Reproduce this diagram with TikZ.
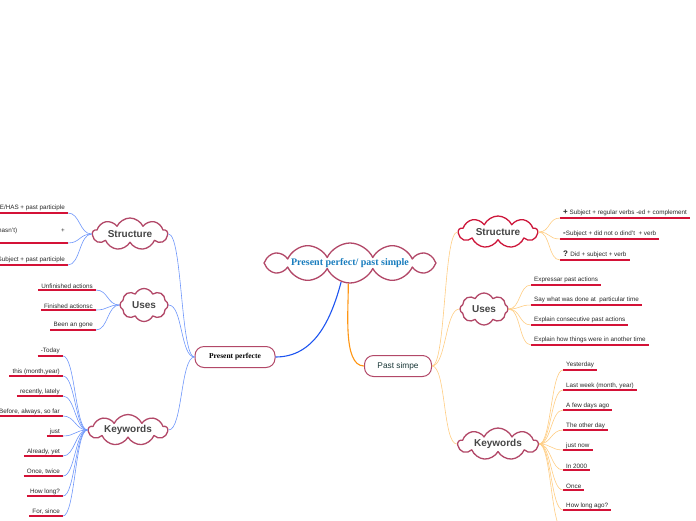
\documentclass[tikz,border=0pt]{standalone}
\usepackage{fontspec}
\setmainfont{Liberation Sans}
\newfontfamily\rootfont{Liberation Serif}
\usetikzlibrary{shapes.symbols}

\definecolor{cloudline}{RGB}{178,72,104}
\definecolor{cloudred}{RGB}{205,22,58}
\definecolor{cloudtext}{RGB}{70,70,70}
\definecolor{roottext}{RGB}{25,125,190}
\definecolor{pstext}{RGB}{25,55,55}
\definecolor{leaftext}{RGB}{40,40,40}
\definecolor{ulinered}{RGB}{212,18,55}
\definecolor{linkblue}{RGB}{110,150,250}
\definecolor{mainblue}{RGB}{30,85,240}
\definecolor{linkorange}{RGB}{255,205,130}
\definecolor{mainorange}{RGB}{255,150,20}

\tikzset{
  topic/.style={cloud, cloud puffs=9, cloud puff arc=130, cloud ignores aspect,
    draw=cloudline, line width=1.3pt, line join=round, fill=white, inner sep=0pt,
    font=\bfseries\fontsize{10}{12}\selectfont, text=cloudtext},
  subject/.style={rectangle, rounded corners=9pt, draw=cloudline, line width=1pt,
    fill=white, minimum height=21pt, inner sep=0pt},
  leaf/.style={inner xsep=3pt, inner ysep=1.5pt, text=leaftext,
    font=\fontsize{6.3}{7.5}\selectfont},
  uline/.style={draw=ulinered, line width=1.3pt},
  bluelink/.style={draw=linkblue, line width=0.6pt},
  orangelink/.style={draw=linkorange, line width=0.6pt},
  leftlink/.style={out=180, in=0, distance=12pt},
  rightlink/.style={out=0, in=180, distance=12pt},
}

\begin{document}
\begin{tikzpicture}[x=1pt,y=1pt]
    % Fix the page
    \useasboundingbox (0,0) rectangle (696,-520);
    \clip (0,0) rectangle (696,-520);
    % Draw root and main topics
    \node[topic, cloud puffs=12, minimum width=172pt, minimum height=38pt,
      font=\rootfont\bfseries\fontsize{10}{12}\selectfont, text=roottext]
      (root) at (350,-263) {Present perfect/ past simple};
    \node[subject, minimum width=80pt, font=\rootfont\bfseries\fontsize{7.5}{9}\selectfont]
      (pp) at (235,-357) {Present perfecte};
    \node[subject, minimum width=67pt, font=\fontsize{8.3}{10}\selectfont, text=pstext]
      (ps) at (398,-366) {Past simpe};
    \draw[mainblue, line width=1.1pt] (root.245) to[out=-105, in=0] (pp.east);
    \draw[mainorange, line width=1.1pt] (root.265) to[out=-88, in=180, distance=22pt] (ps.west);
    % Draw left topics
    \node[topic, minimum width=75pt, minimum height=32pt] (stL) at (130,-234) {Structure};
    \node[topic, cloud puffs=8, minimum width=48pt, minimum height=33pt] (usL) at (144,-305) {Uses};
    \node[topic, minimum width=79pt, minimum height=31pt] (kwL) at (128,-430) {Keywords};
    \foreach \t in {stL,usL,kwL}
        \draw[bluelink] (pp.west) to[out=180, in=0, distance=14pt] (\t.east);
    % Draw right topics
    \node[topic, draw=cloudred, minimum width=79pt, minimum height=32pt] (stR) at (498,-232) {Structure};
    \node[topic, cloud puffs=8, minimum width=48pt, minimum height=32pt] (usR) at (484,-309) {Uses};
    \node[topic, minimum width=80pt, minimum height=32pt] (kwR) at (498,-444) {Keywords};
    \foreach \t in {stR,usR,kwR}
        \draw[orangelink] (ps.east) to[out=0, in=180, distance=14pt] (\t.west);
    % Draw left structure leaves
    \node[leaf, anchor=south east] (stL1) at (68,-213) {HAVE/HAS + past participle};
    \node[leaf, anchor=south east, text depth=9pt] (stL2) at (68,-243) {haven't (hasn't)\hspace{44pt}+};
    \node[leaf, anchor=south east] (stL3) at (68,-265) {Subject + past participle};
    \foreach \i in {1,2,3} {
        \draw[uline] (stL\i.south west) -- (stL\i.south east);
        \draw[bluelink] (stL.west) to[leftlink] (stL\i.south east);
    }
    % Draw left uses leaves
    \foreach \txt [count=\i] in {Unfinished actions, Finished actionsc, Been an gone} {
        \node[leaf, anchor=south east] (usL\i) at (96,{-290-20*(\i-1)}) {\txt};
        \draw[uline] (usL\i.south west) -- (usL\i.south east);
        \draw[bluelink] (usL.west) to[leftlink] (usL\i.south east);
    }
    % Draw left keyword leaves
    \foreach \txt [count=\i] in {-Today, {this (month,year)}, {recently, lately},
        {Before, always, so far}, just, {Already, yet}, {Once, twice}, How long?, {For, since}} {
        \node[leaf, anchor=south east] (kwL\i) at (63,{-356-20*(\i-1)}) {\txt};
        \draw[uline] (kwL\i.south west) -- (kwL\i.south east);
        \draw[bluelink] (kwL.west) to[leftlink] (kwL\i.south east);
    }
    % Draw right structure leaves
    \node[leaf, anchor=south west] (stR1) at (560,-218) {{\bfseries\fontsize{8}{8}\selectfont +} Subject + regular verbs -ed + complement};
    \node[leaf, anchor=south west] (stR2) at (560,-239) {{\bfseries\fontsize{8}{8}\selectfont -}Subject + did not o dind't\ \ + verb};
    \node[leaf, anchor=south west] (stR3) at (560,-260) {{\bfseries\fontsize{8}{8}\selectfont ?} Did + subject + verb};
    \foreach \i in {1,2,3} {
        \draw[uline] (stR\i.south west) -- (stR\i.south east);
        \draw[orangelink] (stR.east) to[rightlink] (stR\i.south west);
    }
    % Draw right uses leaves
    \foreach \txt [count=\i] in {Expressar past actions, Say what was done at\ \ particular time,
        Explain consecutive past actions, Explain how things were in another time} {
        \node[leaf, anchor=south west] (usR\i) at (531,{-285-20*(\i-1)}) {\txt};
        \draw[uline] (usR\i.south west) -- (usR\i.south east);
        \draw[orangelink] (usR.east) to[rightlink] (usR\i.south west);
    }
    % Draw right keyword leaves
    \foreach \txt [count=\i] in {Yesterday, {Last week (month, year)}, A few days ago,
        The other day, just now, In 2000, Once, How long ago?} {
        \node[leaf, anchor=south west] (kwR\i) at (563,{-370-20*(\i-1)}) {\txt};
        \draw[uline] (kwR\i.south west) -- (kwR\i.south east);
        \draw[orangelink] (kwR.east) to[rightlink] (kwR\i.south west);
    }
    \coordinate (kwR9) at (563,-530);
    \draw[orangelink] (kwR.east) to[rightlink] (kwR9);
\end{tikzpicture}
\end{document}
